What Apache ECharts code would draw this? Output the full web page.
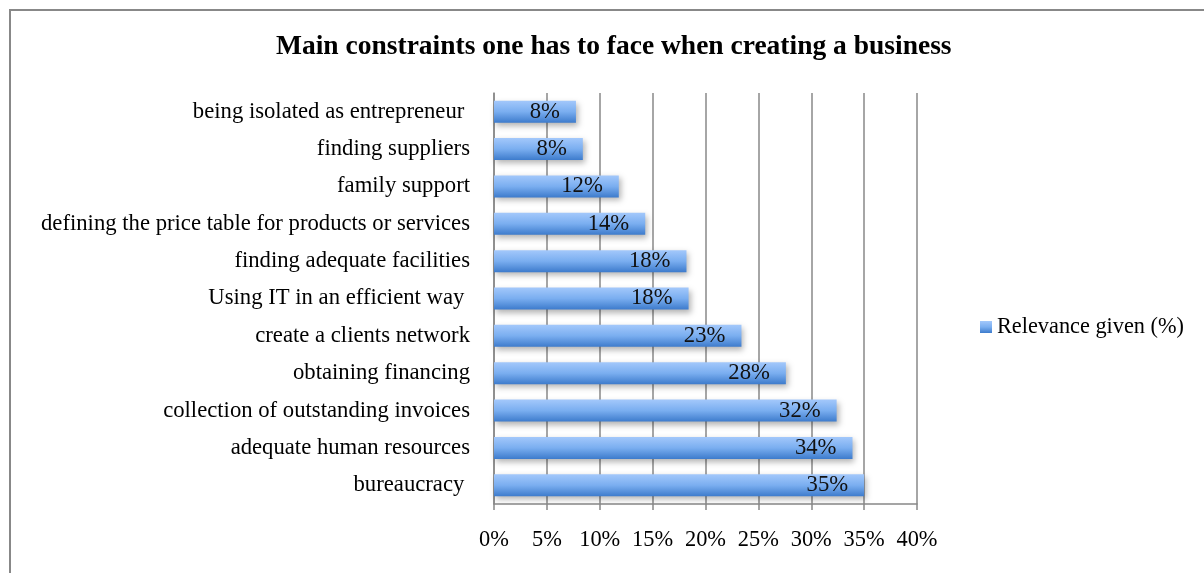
<!DOCTYPE html>
<html>
<head>
<meta charset="utf-8">
<script src="https://cdn.jsdelivr.net/npm/echarts@6/dist/echarts.min.js"></script>
<style>
  html, body { margin: 0; padding: 0; background: #fff; }
  #chart { width: 1204px; height: 573px; }
</style>
</head>
<body>
<div id="chart"></div>
<script>
// categories listed top to bottom, as in the picture
const categories = [
  'being isolated as entrepreneur ',
  'finding suppliers',
  'family support',
  'defining the price table for products or services',
  'finding adequate facilities',
  'Using IT in an efficient way ',
  'create a clients network',
  'obtaining financing',
  'collection of outstanding invoices',
  'adequate human resources',
  'bureaucracy '
]
// bar lengths (%), labels as printed
const values = [7.75, 8.4, 11.8, 14.3, 18.2, 18.4, 23.4, 27.6, 32.4, 33.9, 35.0]
const valueLabels = ['8%', '8%', '12%', '14%', '18%', '18%', '23%', '28%', '32%', '34%', '35%']
const xTicks = [0, 5, 10, 15, 20, 25, 30, 35, 40]

const font = "'Liberation Serif', 'DejaVu Serif', serif"
const chart = echarts.init(document.getElementById('chart'))

chart.setOption({
  backgroundColor: '#fff',
  animation: false,
  title: {
    text: 'Main constraints one has to face when creating a business',
    left: 271,
    top: 28,
    textStyle: { fontFamily: font, fontWeight: 'bold', fontSize: 27.5, color: '#000' }
  },
  graphic: [
    {
      type: 'rect',
      shape: { x: 10, y: 10, width: 1300, height: 700 },
      style: { fill: 'none', stroke: '#888', lineWidth: 2 },
      silent: true
    }
  ],
  legend: {
    left: 975,
    top: 311,
    itemWidth: 12,
    itemHeight: 12,
    itemGap: 4,
    icon: 'rect',
    textStyle: { fontFamily: font, fontSize: 22.3, color: '#000' },
    data: ['Relevance given (%)']
  },
  grid: { left: 494, top: 93, width: 423, height: 411, containLabel: false },
  xAxis: {
    type: 'value',
    min: 0,
    max: 40,
    interval: 5,
    axisLine: { show: true, lineStyle: { color: '#888', width: 1.5 } },
    axisTick: { show: true, length: 6, lineStyle: { color: '#888', width: 1.5 } },
    splitLine: { show: true, lineStyle: { color: '#888', width: 1.5 } },
    axisLabel: {
      color: '#000',
      fontFamily: font,
      fontSize: 22.4,
      margin: 25,
      formatter: v => xTicks.includes(v) ? v + '%' : ''
    }
  },
  yAxis: {
    type: 'category',
    inverse: true,
    data: categories,
    axisLine: { show: true, lineStyle: { color: '#888', width: 1.5 } },
    axisTick: { show: false },
    axisLabel: {
      color: '#000',
      fontFamily: font,
      fontSize: 22.7,
      margin: 24
    }
  },
  series: [
    {
      name: 'Relevance given (%)',
      type: 'bar',
      data: values,
      barWidth: 22,
      itemStyle: {
        color: new echarts.graphic.LinearGradient(0, 0, 0, 1, [
          { offset: 0, color: '#a3c8fb' },
          { offset: 0.5, color: '#7aaef0' },
          { offset: 1, color: '#3d7bcc' }
        ]),
        shadowBlur: 6,
        shadowOffsetX: 2,
        shadowOffsetY: 3,
        shadowColor: 'rgba(0,0,0,0.3)'
      },
      label: {
        show: true,
        position: 'insideRight',
        distance: 16,
        color: '#111',
        fontFamily: font,
        fontSize: 22.7,
        formatter: p => valueLabels[p.dataIndex]
      }
    }
  ]
})
</script>
</body>
</html>
